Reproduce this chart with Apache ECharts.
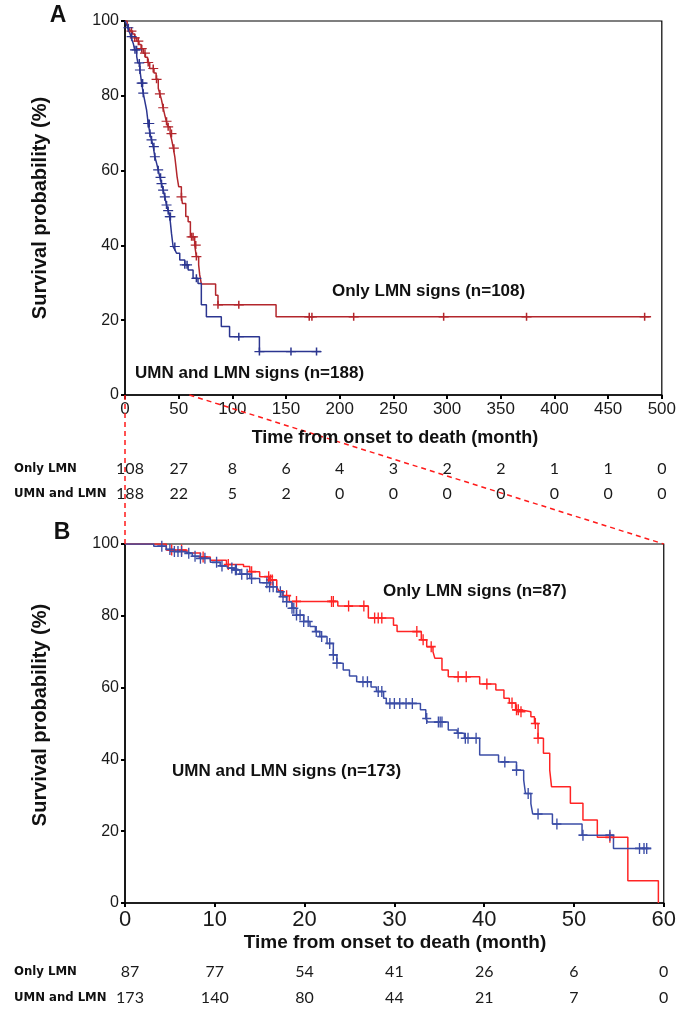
<!DOCTYPE html>
<html><head><meta charset="utf-8">
<script src="https://cdn.jsdelivr.net/npm/echarts@6/dist/echarts.min.js"></script>
<style>html,body{margin:0;padding:0;background:#fff}#c{width:679px;height:1013px}</style>
</head><body><div id="c"></div>
<script>
// ---------- Panel A data ----------
const xTicksA = [0,50,100,150,200,250,300,350,400,450,500];
const riskA_onlyLMN = [108,27,8,6,4,3,2,2,1,1,0];
const riskA_umnLMN  = [188,22,5,2,0,0,0,0,0,0,0];
// KM steps [time (month), survival % after step]
const kmA_onlyLMN = [[0,100],[2,99],[3.5,98.2],[5,97.3],[7,96.5],[9,95.5],[11,94.6],[13,93.7],[15,92.6],[17,91.4],[19,90.3],[21,88.9],[23,87.3],[27,86.1],[29,84.4],[31,82.0],[32.5,80.5],[34,78.9],[35.5,76.8],[37,74.9],[38.5,73.2],[40,71.7],[42,69.9],[43.5,68.2],[45,66],[46.4,63.7],[47.5,61],[48.5,58.4],[50,55.7],[52.5,53],[53.5,51.2],[56.6,47.7],[58.8,46.3],[60.9,42.3],[64.9,40.1],[66.5,37.0],[68.6,34.8],[69.6,32.1],[71.1,29.7],[84.4,26.7],[86.6,24.1],[140.7,20.9],[490,20.9]];
const censA_onlyLMN = [6.0,9.1,12.4,15.6,18.6,21.6,26.3,29.4,32.5,35.6,38.7,40.2,43.3,45.5,52.6,62,63.4,65.9,66.5,86.6,106,171.6,174.1,213,296.8,374,484];
const kmA_umnLMN = [[0,100],[1.5,99],[2.5,98.2],[3.5,97.4],[4.6,96.7],[5.5,95.8],[6.5,94.9],[7.7,94.0],[9,92.3],[10.9,90.5],[12,88.8],[13.9,86.9],[14.7,85.1],[15.5,83.4],[17.0,80.7],[18.5,78.5],[20.1,76.2],[21.6,72.6],[23.2,70.0],[24.7,68.2],[26.3,66.4],[27.8,63.7],[29.4,62],[30.9,60.2],[32.5,58.2],[34.0,56.5],[35.5,54.8],[37.1,53],[38.7,50.8],[40.2,49.3],[41.7,47.7],[42.5,45.5],[43.3,43.2],[44.8,39.7],[46.5,38.8],[48,37.9],[51,36.1],[55.7,34.8],[58.8,33.4],[63.4,31.2],[68,29.8],[71.1,24.1],[75.8,20.9],[89.7,18.3],[97.4,15.6],[125.2,11.6],[182.5,11.6]];
const censA_umnLMN = [3.1,6.2,9.3,10.8,13.3,13.9,15.5,16.4,17.0,21.6,22.6,23.2,24.7,26.9,27.8,30.9,33.1,34.0,35.5,37.1,38.7,40.2,41.7,42.3,46.4,55.7,57.8,66.5,106,125.2,154.6,178.4];

// ---------- Panel B data ----------
const xTicksB = [0,10,20,30,40,50,60];
const riskB_onlyLMN = [87,77,54,41,26,6,0];
const riskB_umnLMN  = [173,140,80,44,21,7,0];
const kmB_onlyLMN = [[0,100],[4.6,98.3],[6.9,97.5],[8.4,96.4],[9.5,95.5],[11.3,94.3],[13.2,93.7],[13.9,92.3],[15.0,90.9],[16.1,90.0],[16.9,88.1],[17.1,87.0],[17.6,85.6],[18.3,84.0],[23.7,82.7],[27.1,79.4],[29.9,77.4],[30.3,75.6],[33.0,73.3],[33.6,71.4],[34.3,70.0],[34.5,68.2],[35.3,64.9],[36.0,63.0],[39.5,61.0],[41.3,59.3],[42.2,57.0],[42.8,55.7],[43.5,53.8],[44.0,53.3],[45.2,51.9],[45.6,50.0],[46.0,45.9],[46.6,41.7],[47.3,37.0],[47.5,32.4],[49.6,27.8],[51.0,23.1],[52.6,18.3],[56.0,6.2],[59.4,0]];
const censB_onlyLMN = [5.2,6.3,8.7,11.5,14.1,16.0,16.2,16.4,18.0,19.1,23.0,23.2,24.9,26.6,27.8,28.2,28.6,32.5,33.2,34.1,37.1,38.0,40.3,43.1,43.6,43.8,44.1,45.7,46.0,54.0];
const kmB_umnLMN = [[0,100],[3.2,99.4],[4.6,98.5],[5.5,97.9],[6.5,97.4],[7.5,96.6],[8.4,96.0],[9.5,94.9],[10.6,93.9],[11.4,93.3],[12.1,92.8],[12.8,91.6],[13.9,90.4],[15.0,89.2],[16.1,88.1],[16.9,86.7],[17.5,85.3],[18.0,83.9],[18.6,82.1],[19.1,80.2],[19.9,78.4],[20.6,77.0],[21.2,75.6],[21.7,74.2],[22.5,72.3],[23.2,69.1],[23.6,66.8],[24.3,64.9],[25.0,63.2],[25.8,61.6],[27.4,60.2],[28.0,58.9],[28.8,57.0],[29.1,55.6],[32.9,53.8],[33.5,51.4],[33.7,50.4],[36.0,48.2],[37.0,47.3],[37.8,45.9],[39.5,41.2],[41.6,39.3],[43.6,37.0],[44.4,34.3],[44.6,30.5],[45.2,27.7],[45.4,24.8],[47.6,22.0],[50.9,18.9],[54.4,15.2],[58.6,15.2]];
const censB_umnLMN = [4.1,5.0,5.5,5.9,6.3,7.1,7.8,8.4,8.9,10.2,10.8,11.9,12.3,12.4,13.0,13.6,14.1,15.8,16.1,16.5,17.3,17.6,18.0,18.6,18.8,19.1,19.5,19.9,20.4,21.3,21.9,22.8,23.2,23.6,26.5,27.0,28.2,28.6,29.5,30.0,30.6,31.3,32.0,33.6,34.9,35.1,35.3,37.1,37.9,38.2,39.1,42.3,43.6,44.9,46.0,48.1,51.0,54.0,57.3,57.8,58.1];

const yTicks = [0,20,40,60,80,100];

// ---------- helpers ----------
function survAt(steps, t){ let s = steps[0][1]; for (const p of steps){ if (p[0] <= t) s = p[1]; else break; } return s; }
function censPts(steps, times){ return times.map(t => [t, survAt(steps, t)]); }
const CROSS = 'path://M0,8.5H20V11.5H0Z M8.5,0H11.5V20H8.5Z';
const FONT = "'Liberation Sans', Arial, sans-serif";
const NARROW = "'DejaVu Sans Condensed', 'Liberation Sans', sans-serif";
const NUMF = "Lato, 'Open Sans', sans-serif";

const C = {aRed:'#b3262c', aBlue:'#2b3590', bRed:'#ff2424', bBlue:'#3b4da6'};

function kmLine(gi, data, color){
  return {type:'line', xAxisIndex:gi, yAxisIndex:gi, step:'end', data:data, symbol:'none',
    lineStyle:{color:color, width:1.5}, z:3, silent:true};
}
function censSeries(gi, steps, times, color, size){
  return {type:'scatter', xAxisIndex:gi, yAxisIndex:gi, data:censPts(steps, times), symbol:CROSS,
    symbolSize:size, itemStyle:{color:color, opacity:1}, z:4, silent:true};
}
function xAx(gi, max, interval, fs){
  return {type:'value', gridIndex:gi, min:0, max:max, interval:interval,
    axisLine:{show:true, onZero:false, lineStyle:{color:'#000', width:1.5}},
    axisTick:{show:true, length:4, lineStyle:{color:'#000', width:2}},
    axisLabel:{color:'#1a1a1a', fontSize:fs, fontFamily:FONT, margin:6},
    splitLine:{show:false}};
}
function yAx(gi){
  return {type:'value', gridIndex:gi, min:0, max:100, interval:20,
    axisLine:{show:true, onZero:false, lineStyle:{color:'#000', width:1.5}},
    axisTick:{show:true, length:4, lineStyle:{color:'#000', width:2}},
    axisLabel:{color:'#1a1a1a', fontSize:16, fontFamily:FONT, margin:6},
    splitLine:{show:false}};
}

const chart = echarts.init(document.getElementById('c'), null, {renderer:'canvas'});
chart.setOption({
  animation:false,
  backgroundColor:'#fff',
  grid:[
    {left:125, top:21, width:539, height:374, show:true, borderColor:'#000', borderWidth:1.2, backgroundColor:'transparent'},
    {left:125, top:544, width:539, height:359, show:true, borderColor:'#000', borderWidth:1.2, backgroundColor:'transparent'}
  ],
  xAxis:[xAx(0, 500, 50, 17), xAx(1, 60, 10, 22)],
  yAxis:[yAx(0), yAx(1)],
  series:[
    kmLine(0, kmA_onlyLMN, C.aRed),
    kmLine(0, kmA_umnLMN, C.aBlue),
    censSeries(0, kmA_onlyLMN, censA_onlyLMN, C.aRed, [10,8]),
    censSeries(0, kmA_umnLMN, censA_umnLMN, C.aBlue, [10,8]),
    kmLine(1, kmB_onlyLMN, C.bRed),
    kmLine(1, kmB_umnLMN, C.bBlue),
    censSeries(1, kmB_onlyLMN, censB_onlyLMN, C.bRed, [9,11]),
    censSeries(1, kmB_umnLMN, censB_umnLMN, C.bBlue, [9,11])
  ]
});

// ---------- overlay texts & lines ----------
const g = [];
function txt(x, y, s, opt){
  g.push({type:'text', x:x, y:y, z:10, silent:true,
    style:Object.assign({text:s, fill:'#111', font:'bold 17px ' + FONT, textAlign:'left', textVerticalAlign:'middle'}, opt||{})});
}
const pA0 = chart.convertToPixel({gridIndex:0}, [0,0]);
const pA60 = chart.convertToPixel({gridIndex:0}, [60,0]);
const pB0 = chart.convertToPixel({gridIndex:1}, [0,100]);
const pB60 = chart.convertToPixel({gridIndex:1}, [60,100]);
const dash = {stroke:'#ff1a1a', lineWidth:1.5, lineDash:[5,4]};
g.push({type:'line', z:9, silent:true, shape:{x1:pA0[0], y1:pA0[1], x2:pB0[0], y2:pB0[1]}, style:dash});
g.push({type:'line', z:9, silent:true, shape:{x1:pA60[0], y1:pA60[1], x2:pB60[0], y2:pB60[1]}, style:dash});

// panel letters
txt(58, 16, 'A', {font:'bold 23px ' + FONT, textAlign:'center'});
txt(62, 533, 'B', {font:'bold 23px ' + FONT, textAlign:'center'});
// axis titles
txt(395, 438, 'Time from onset to death (month)', {font:'bold 18px ' + FONT, textAlign:'center'});
txt(395, 943, 'Time from onset to death (month)', {font:'bold 19px ' + FONT, textAlign:'center'});
g.push({type:'text', x:40, y:208, rotation:Math.PI/2, z:10, silent:true,
  style:{text:'Survival probability (%)', fill:'#111', font:'bold 20px ' + FONT, textAlign:'center', textVerticalAlign:'middle'}});
g.push({type:'text', x:40, y:715, rotation:Math.PI/2, z:10, silent:true,
  style:{text:'Survival probability (%)', fill:'#111', font:'bold 20px ' + FONT, textAlign:'center', textVerticalAlign:'middle'}});
// curve labels
txt(332, 291, 'Only LMN signs (n=108)');
txt(135, 373, 'UMN and LMN signs (n=188)');
txt(383, 591, 'Only LMN signs (n=87)');
txt(172, 771, 'UMN and LMN signs (n=173)');
// risk tables
function riskRow(gi, ticks, vals, y){
  ticks.forEach((t, i) => {
    const px = chart.convertToPixel({gridIndex:gi}, [t, 0])[0];
    txt(px + (i === 0 ? 5 : 0), y, String(vals[i]), {font:'16px ' + NUMF, textAlign:'center', fill:'#1a1a1a'});
  });
}
txt(14, 469, 'Only LMN', {font:'bold 13px ' + NARROW});
txt(14, 494, 'UMN and LMN', {font:'bold 13px ' + NARROW});
riskRow(0, xTicksA, riskA_onlyLMN, 469);
riskRow(0, xTicksA, riskA_umnLMN, 494);
txt(14, 972, 'Only LMN', {font:'bold 13px ' + NARROW});
txt(14, 998, 'UMN and LMN', {font:'bold 13px ' + NARROW});
riskRow(1, xTicksB, riskB_onlyLMN, 972);
riskRow(1, xTicksB, riskB_umnLMN, 998);

chart.setOption({graphic:g});
</script>
</body></html>
